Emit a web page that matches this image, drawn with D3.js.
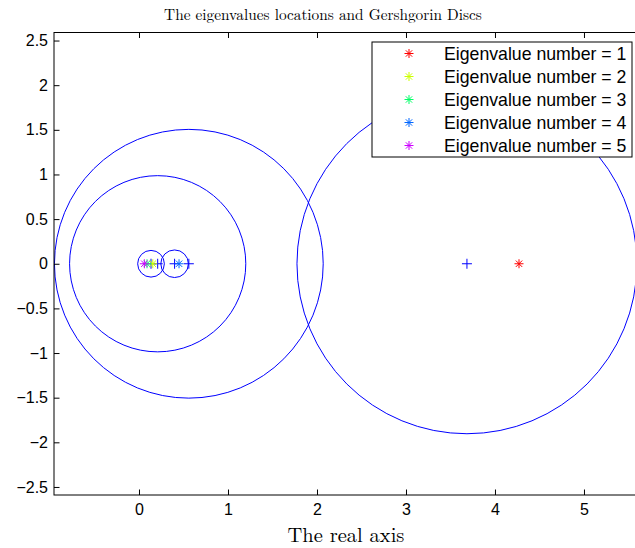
<!DOCTYPE html>
<html>
<head>
<meta charset="utf-8">
<script src="https://cdn.jsdelivr.net/npm/d3@7"></script>
<style>
 body { margin:0; background:#fff; }
 svg { display:block; }
</style>
</head>
<body>
<div id="chart"></div>
<script>
"use strict";

// Gershgorin discs: centre = diagonal entry, radius = off-diagonal row sum
let discCentres = [3.685, 0.56, 0.21, 0.40, 0.135];
let discRadii = [1.91, 1.51, 0.99, 0.155, 0.15];

// eigenvalues (all real)
let eigenLabels = ["Eigenvalue number = 1", "Eigenvalue number = 2", "Eigenvalue number = 3",
                   "Eigenvalue number = 4", "Eigenvalue number = 5"];
let eigenValues = [4.27, 0.155, 0.09, 0.45, 0.06];
let eigenColors = ["#ff0000", "#ccff00", "#00ff66", "#0066ff", "#cc00ff"];

let xTicks = [0, 1, 2, 3, 4, 5];
let yTicks = [2.5, 2, 1.5, 1, 0.5, 0, -0.5, -1, -1.5, -2, -2.5];

let W = 635, H = 548;
let plotL = 54, plotR = 644.5, plotT = 32.5, plotB = 495;

let svg = d3.select("#chart")
.append("svg")
.attr("width", W)
.attr("height", H);

let xScale = d3.scaleLinear()
.domain([-0.955, 5.68])
.range([plotL, plotR]);

let yScale = d3.scaleLinear()
.domain([-2.59, 2.59])
.range([plotB, plotT]);

svg.append("clipPath")
.attr("id", "plotclip")
.append("rect")
.attr("x", plotL)
.attr("y", plotT)
.attr("width", plotR - plotL)
.attr("height", plotB - plotT);

let plot = svg.append("g").attr("clip-path", "url(#plotclip)");

// discs
plot.selectAll("circle.disc")
.data(discCentres)
.join("circle")
.attr("class", "disc")
.attr("cx", d => xScale(d))
.attr("cy", yScale(0))
.attr("r", (d, i) => xScale(discRadii[i]) - xScale(0))
.attr("fill", "none")
.attr("stroke", "#0000ff")
.attr("stroke-width", 1);

// centres as + markers
let plusSize = 5;
plot.selectAll("path.centre")
.data(discCentres)
.join("path")
.attr("class", "centre")
.attr("d", d => {
  let cx = xScale(d), cy = yScale(0);
  return "M" + (cx - plusSize) + "," + cy + "H" + (cx + plusSize) +
         "M" + cx + "," + (cy - plusSize) + "V" + (cy + plusSize);
})
.attr("stroke", "#0000ff")
.attr("stroke-width", 1)
.attr("fill", "none");

// asterisk marker
function starPath(cx, cy, s) {
  let d = s * 0.7071;
  return "M" + (cx - s) + "," + cy + "H" + (cx + s) +
         "M" + cx + "," + (cy - s) + "V" + (cy + s) +
         "M" + (cx - d) + "," + (cy - d) + "L" + (cx + d) + "," + (cy + d) +
         "M" + (cx - d) + "," + (cy + d) + "L" + (cx + d) + "," + (cy - d);
}

plot.selectAll("path.eig")
.data(eigenValues)
.join("path")
.attr("class", "eig")
.attr("d", d => starPath(xScale(d), yScale(0), 4.5))
.attr("stroke", (d, i) => eigenColors[i])
.attr("stroke-width", 1)
.attr("fill", "none");

// axes box
svg.append("rect")
.attr("x", plotL)
.attr("y", plotT)
.attr("width", plotR - plotL)
.attr("height", plotB - plotT)
.attr("fill", "none")
.attr("stroke", "#000")
.attr("stroke-width", 1);

let fontSans = "Helvetica, 'Liberation Sans', Arial, sans-serif";
let fontSerif = "'Latin Modern Roman', 'Liberation Serif', 'DejaVu Serif', serif";
let tickLen = 5.5;
let fmt = d => String(d).replace("-", "\u2212");

// x axis (bottom, ticks inside, mirrored at top)
let xAxisB = d3.axisBottom(xScale).tickValues(xTicks).tickSizeInner(-tickLen).tickSizeOuter(0).tickPadding(9).tickFormat(fmt);
let gx = svg.append("g").attr("transform", "translate(0," + plotB + ")").call(xAxisB);
let xAxisT = d3.axisTop(xScale).tickValues(xTicks).tickSizeInner(-tickLen).tickSizeOuter(0).tickFormat("");
let gxt = svg.append("g").attr("transform", "translate(0," + plotT + ")").call(xAxisT);

let yAxisL = d3.axisLeft(yScale).tickValues(yTicks).tickSizeInner(-tickLen).tickSizeOuter(0).tickPadding(6).tickFormat(fmt);
let gy = svg.append("g").attr("transform", "translate(" + plotL + ",0)").call(yAxisL);
let yAxisR = d3.axisRight(yScale).tickValues(yTicks).tickSizeInner(-tickLen).tickSizeOuter(0).tickFormat("");
let gyr = svg.append("g").attr("transform", "translate(" + plotR + ",0)").call(yAxisR);

[gx, gxt, gy, gyr].forEach(g => {
  g.select(".domain").remove();
  g.selectAll(".tick line").attr("stroke", "#000");
  g.selectAll(".tick text")
  .attr("fill", "#000")
  .style("font-family", fontSans)
  .style("font-size", "16px");
});

// title and axis label
svg.append("text")
.attr("x", 323)
.attr("y", 20)
.attr("text-anchor", "middle")
.style("font-family", fontSerif)
.style("font-size", "15.3px")
.text("The eigenvalues locations and Gershgorin Discs");

svg.append("text")
.attr("x", 346)
.attr("y", 542)
.attr("text-anchor", "middle")
.style("font-family", fontSerif)
.style("font-size", "20.5px")
.text("The real axis");

// legend
let legX = 372, legY = 42, legW = 260, legH = 115;
let legend = svg.append("g");
legend.append("rect")
.attr("x", legX)
.attr("y", legY)
.attr("width", legW)
.attr("height", legH)
.attr("fill", "#fff")
.attr("stroke", "#000")
.attr("stroke-width", 1);

let rowY = d3.scaleLinear().domain([0, 4]).range([legY + 11.5, legY + 103.5]);

legend.selectAll("path.leg")
.data(eigenLabels)
.join("path")
.attr("class", "leg")
.attr("d", (d, i) => starPath(409, rowY(i), 4.5))
.attr("stroke", (d, i) => eigenColors[i])
.attr("fill", "none");

legend.selectAll("text.leg")
.data(eigenLabels)
.join("text")
.attr("class", "leg")
.attr("x", 444)
.attr("y", (d, i) => rowY(i))
.attr("dy", "0.36em")
.style("font-family", fontSans)
.style("font-size", "17.7px")
.text(d => d);
</script>
</body>
</html>
